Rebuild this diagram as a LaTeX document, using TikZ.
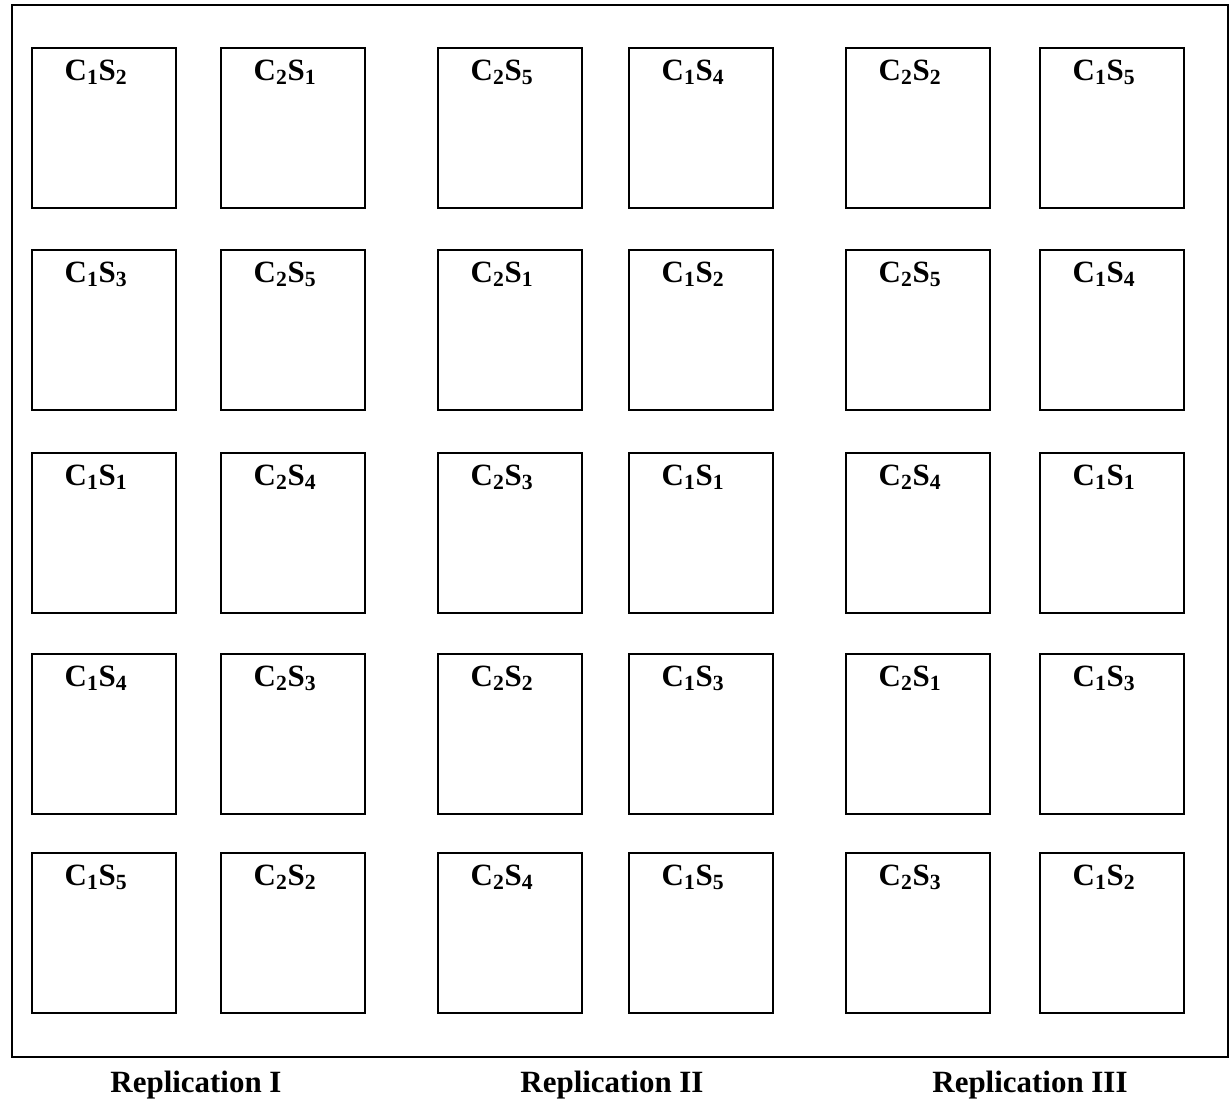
\documentclass[tikz,border=0pt]{standalone}
\usepackage{fontspec}
\setmainfont{Liberation Serif}
\begin{document}
\begin{tikzpicture}[x=0.025cm, y=-0.025cm]
  \tikzstyle{plot}=[draw, line width=1.2pt, minimum width=3.6cm, minimum height=4cm, inner sep=0pt]
  \tikzstyle{lbl}=[font=\fontsize{22}{26}\selectfont\bfseries, anchor=base, inner sep=0pt]
  \useasboundingbox (0,0) rectangle (1230,1099);

  % moldura do campo
  \node[draw, line width=1.3pt, minimum width=30.4cm, minimum height=26.3cm, inner sep=0pt] (field) at (620,531) {};

  % parcelas: uma lista por linha, C/S
  \foreach \row [count=\r] in {{1/2,2/1,2/5,1/4,2/2,1/5},
                               {1/3,2/5,2/1,1/2,2/5,1/4},
                               {1/1,2/4,2/3,1/1,2/4,1/1},
                               {1/4,2/3,2/2,1/3,2/1,1/3},
                               {1/5,2/2,2/4,1/5,2/3,1/2}} {
    \pgfmathsetmacro{\yc}{{128,330,533,734,933}[\r-1]}
    \foreach \c/\s [count=\k] in \row {
      \pgfmathsetmacro{\xc}{{104,293,510,701,918,1112}[\k-1]}
      \node[plot] (p\r\k) at (\xc,\yc) {};
      \node[lbl] (t\r\k) at ([xshift=-0.2cm, yshift=-0.825cm]p\r\k.north) {C\textsubscript{\c}S\textsubscript{\s}};
    }
  }

  % repeticoes
  \node[lbl] (rep1) at (196,1092) {Replication I};
  \node[lbl] (rep2) at (612,1092) {Replication II};
  \node[lbl] (rep3) at (1030,1092) {Replication III};
\end{tikzpicture}
\end{document}
